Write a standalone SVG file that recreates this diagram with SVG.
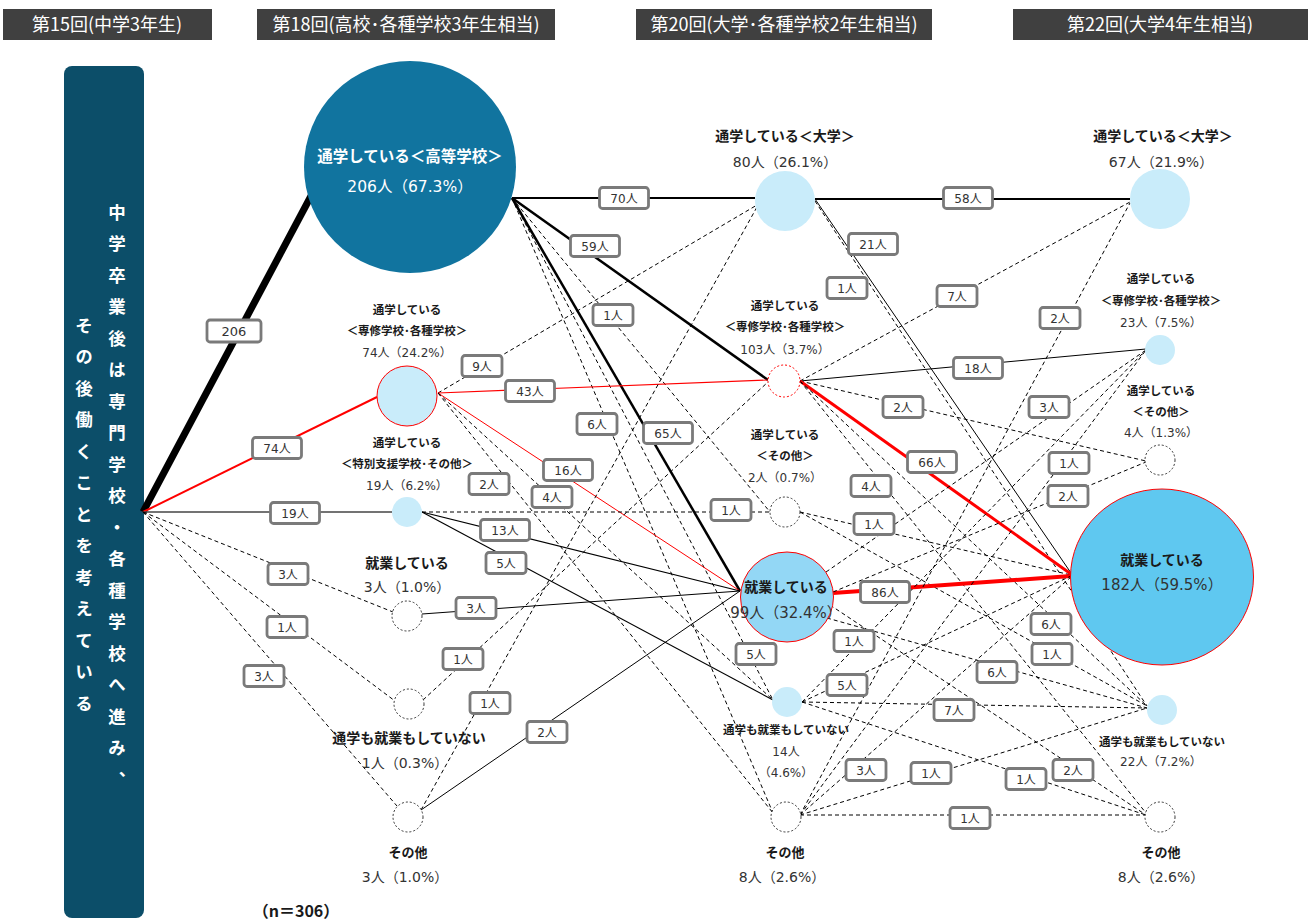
<svg xmlns="http://www.w3.org/2000/svg" width="1314" height="920" viewBox="0 0 1314 920">
<style>
.hdr{fill:#404040}
.hdt{font-family:"Noto Sans CJK JP",sans-serif;font-size:18px;fill:#fff;text-anchor:middle}
.vt{font-family:"Noto Sans CJK JP",sans-serif;font-size:17.5px;font-weight:bold;fill:#fff;writing-mode:vertical-rl;letter-spacing:14px}
.t{font-family:"Noto Sans CJK JP",sans-serif;font-weight:bold;fill:#1a1a1a;text-anchor:middle}
.v{font-family:"DejaVu Sans","Noto Sans CJK JP",sans-serif;fill:#333;text-anchor:middle}
.d{stroke:#000;stroke-width:1;stroke-dasharray:4 3;fill:none}
.k{stroke:#000;fill:none}
.r{stroke:#f00;fill:none}
.box{fill:#fff;stroke:#7a7a7a;stroke-width:2.8}
.lt{font-family:"DejaVu Sans","Noto Sans CJK JP",sans-serif;font-size:12px;fill:#333;text-anchor:middle}
.lc{fill:#c9ecfa}
.dc{fill:#fff;stroke:#333;stroke-width:1;stroke-dasharray:2 2}
</style>
<defs>
<rect id="b1" class="box" x="-20" y="-10.5" width="40" height="21" rx="3"/>
<rect id="b2" class="box" x="-24.5" y="-10.5" width="49" height="21" rx="3"/>
<rect id="b3" class="box" x="-27" y="-11" width="54" height="22" rx="3"/>
</defs>

<g id="headers">
<rect class="hdr" x="3" y="9" width="209" height="31"/>
<text class="hdt" x="107" y="31">第15回(中学3年生)</text>
<rect class="hdr" x="257" y="9" width="298" height="31"/>
<text class="hdt" x="406" y="31">第18回(高校･各種学校3年生相当)</text>
<rect class="hdr" x="636" y="9" width="296" height="31"/>
<text class="hdt" x="784" y="31">第20回(大学･各種学校2年生相当)</text>
<rect class="hdr" x="1013" y="9" width="295" height="31"/>
<text class="hdt" x="1160" y="31">第22回(大学4年生相当)</text>
</g>

<g id="start">
<rect x="64" y="66" width="80" height="852" rx="8" fill="#0c4e69"/>
<text class="vt" x="117" y="203.5">中学卒業後は専門学校・各種学校へ進み、</text>
<text class="vt" x="84" y="316.5">その後働くことを考えている</text>
</g>

<g id="connectors">
<line class="k" stroke-width="7" x1="143" y1="512" x2="311" y2="196"/>
<line class="r" stroke-width="2" x1="143" y1="512" x2="377" y2="397"/>
<line stroke="#444" stroke-width="1.5" x1="143" y1="512" x2="392" y2="512"/>
<line class="d" x1="143" y1="512" x2="393" y2="612"/>
<line class="d" x1="143" y1="512" x2="395" y2="701"/>
<line class="d" x1="143" y1="512" x2="397" y2="806"/>

<line class="k" stroke-width="2" x1="512" y1="198" x2="755" y2="198"/>
<line class="k" stroke-width="2.5" x1="512" y1="198" x2="768" y2="380"/>
<line class="k" stroke-width="2.5" x1="512" y1="198" x2="740" y2="591"/>
<line class="d" x1="512" y1="198" x2="770" y2="512"/>
<line class="d" x1="512" y1="198" x2="773" y2="700"/>
<line class="d" x1="512" y1="198" x2="773" y2="813"/>

<line class="d" x1="438" y1="393" x2="757" y2="205"/>
<line class="r" stroke-width="1.2" x1="438" y1="393" x2="768" y2="380"/>
<line class="r" stroke-width="1" x1="438" y1="393" x2="740" y2="591"/>
<line class="d" x1="438" y1="393" x2="773" y2="700"/>
<line class="d" x1="438" y1="393" x2="773" y2="813"/>

<line class="k" stroke-width="1.2" x1="422" y1="512" x2="740" y2="591"/>
<line class="k" stroke-width="1.2" x1="422" y1="512" x2="773" y2="700"/>
<line class="d" x1="422" y1="512" x2="770" y2="512"/>
<line class="k" stroke-width="1" x1="422" y1="614" x2="740" y2="591"/>
<line class="d" x1="423" y1="700" x2="768" y2="382"/>
<line class="d" x1="421" y1="810" x2="757" y2="207"/>
<line class="k" stroke-width="1" x1="421" y1="810" x2="740" y2="591"/>

<line class="k" stroke-width="2" x1="815" y1="199" x2="1130" y2="199"/>
<line class="k" stroke-width="1" x1="815" y1="199" x2="1071" y2="573"/>
<line class="d" x1="815" y1="201" x2="1147" y2="706"/>

<line class="d" x1="800" y1="381" x2="1130" y2="202"/>
<line class="k" stroke-width="1" x1="800" y1="381" x2="1146" y2="349"/>
<line class="d" x1="800" y1="381" x2="1146" y2="461"/>
<line class="r" stroke-width="3" x1="800" y1="381" x2="1071" y2="574"/>
<line class="d" x1="800" y1="381" x2="1147" y2="706"/>
<line class="d" x1="800" y1="381" x2="1146" y2="813"/>

<line class="d" x1="800" y1="512" x2="1071" y2="575"/>
<line class="d" x1="800" y1="512" x2="1147" y2="706"/>

<line class="r" stroke-width="4" x1="833" y1="593" x2="1071" y2="576"/>
<line class="d" x1="826" y1="572" x2="1146" y2="350"/>
<line class="d" x1="833" y1="592" x2="1146" y2="462"/>
<line class="d" x1="827" y1="618" x2="1147" y2="708"/>
<line class="d" x1="830" y1="605" x2="1146" y2="815"/>

<line class="d" x1="802" y1="702" x2="1147" y2="708"/>
<line class="d" x1="802" y1="702" x2="1146" y2="350"/>
<line class="d" x1="802" y1="702" x2="1071" y2="576"/>
<line class="d" x1="802" y1="702" x2="1146" y2="815"/>

<line class="d" x1="800" y1="815" x2="1130" y2="203"/>
<line class="d" x1="800" y1="815" x2="1146" y2="815"/>
<line class="d" x1="800" y1="815" x2="1147" y2="708"/>
<line class="d" x1="800" y1="815" x2="1071" y2="577"/>
<line class="d" x1="800" y1="815" x2="1146" y2="350"/>

<use href="#b3" x="234" y="331"/><text class="lt" x="234" y="335.5" style="font-size:13px">206</text>
<use href="#b2" x="277" y="448"/><text class="lt" x="277" y="452.5">74人</text>
<use href="#b2" x="295" y="513"/><text class="lt" x="295" y="517.5">19人</text>
<use href="#b1" x="288" y="574"/><text class="lt" x="288" y="578.5">3人</text>
<use href="#b1" x="287" y="627"/><text class="lt" x="287" y="631.5">1人</text>
<use href="#b1" x="264" y="676"/><text class="lt" x="264" y="680.5">3人</text>
<use href="#b2" x="624" y="198"/><text class="lt" x="624" y="202.5">70人</text>
<use href="#b2" x="595" y="246"/><text class="lt" x="595" y="250.5">59人</text>
<use href="#b2" x="668" y="433"/><text class="lt" x="668" y="437.5">65人</text>
<use href="#b1" x="613" y="315"/><text class="lt" x="613" y="319.5">1人</text>
<use href="#b1" x="756" y="654"/><text class="lt" x="756" y="658.5">5人</text>
<use href="#b1" x="597" y="424"/><text class="lt" x="597" y="428.5">6人</text>
<use href="#b1" x="482" y="366"/><text class="lt" x="482" y="370.5">9人</text>
<use href="#b2" x="530" y="391"/><text class="lt" x="530" y="395.5">43人</text>
<use href="#b2" x="568" y="470"/><text class="lt" x="568" y="474.5">16人</text>
<use href="#b1" x="552" y="497"/><text class="lt" x="552" y="501.5">4人</text>
<use href="#b1" x="489" y="484"/><text class="lt" x="489" y="488.5">2人</text>
<use href="#b2" x="505" y="530"/><text class="lt" x="505" y="534.5">13人</text>
<use href="#b1" x="506" y="563"/><text class="lt" x="506" y="567.5">5人</text>
<use href="#b1" x="731" y="510"/><text class="lt" x="731" y="514.5">1人</text>
<use href="#b1" x="476" y="608"/><text class="lt" x="476" y="612.5">3人</text>
<use href="#b1" x="463" y="659"/><text class="lt" x="463" y="663.5">1人</text>
<use href="#b1" x="490" y="703"/><text class="lt" x="490" y="707.5">1人</text>
<use href="#b1" x="547" y="732"/><text class="lt" x="547" y="736.5">2人</text>
<use href="#b2" x="968" y="198"/><text class="lt" x="968" y="202.5">58人</text>
<use href="#b2" x="873" y="244"/><text class="lt" x="873" y="248.5">21人</text>
<use href="#b1" x="847" y="288"/><text class="lt" x="847" y="292.5">1人</text>
<use href="#b1" x="957" y="296"/><text class="lt" x="957" y="300.5">7人</text>
<use href="#b2" x="978" y="368"/><text class="lt" x="978" y="372.5">18人</text>
<use href="#b1" x="903" y="407"/><text class="lt" x="903" y="411.5">2人</text>
<use href="#b2" x="932" y="462"/><text class="lt" x="932" y="466.5">66人</text>
<use href="#b1" x="1051" y="624"/><text class="lt" x="1051" y="628.5">6人</text>
<use href="#b1" x="871" y="486"/><text class="lt" x="871" y="490.5">4人</text>
<use href="#b1" x="874" y="524"/><text class="lt" x="874" y="528.5">1人</text>
<use href="#b1" x="1052" y="654"/><text class="lt" x="1052" y="658.5">1人</text>
<use href="#b2" x="885" y="592"/><text class="lt" x="885" y="596.5">86人</text>
<use href="#b1" x="1049" y="407"/><text class="lt" x="1049" y="411.5">3人</text>
<use href="#b1" x="1068" y="496"/><text class="lt" x="1068" y="500.5">2人</text>
<use href="#b1" x="997" y="672"/><text class="lt" x="997" y="676.5">6人</text>
<use href="#b1" x="1073" y="770"/><text class="lt" x="1073" y="774.5">2人</text>
<use href="#b1" x="954" y="710"/><text class="lt" x="954" y="714.5">7人</text>
<use href="#b1" x="854" y="641"/><text class="lt" x="854" y="645.5">1人</text>
<use href="#b1" x="847" y="685"/><text class="lt" x="847" y="689.5">5人</text>
<use href="#b1" x="1026" y="779"/><text class="lt" x="1026" y="783.5">1人</text>
<use href="#b1" x="1060" y="318"/><text class="lt" x="1060" y="322.5">2人</text>
<use href="#b1" x="970" y="818"/><text class="lt" x="970" y="822.5">1人</text>
<use href="#b1" x="931" y="773"/><text class="lt" x="931" y="777.5">1人</text>
<use href="#b1" x="866" y="770"/><text class="lt" x="866" y="774.5">3人</text>
<use href="#b1" x="1069" y="463"/><text class="lt" x="1069" y="467.5">1人</text>
</g>

<g id="a1">
<circle cx="410" cy="167" r="106" fill="#11749f"/>
<text class="t" x="410" y="162" style="font-size:15.5px;fill:#fff">通学している＜高等学校＞</text>
<text class="v" x="410" y="192" style="font-size:15.5px;fill:#fff">206人（67.3%）</text>
</g>
<g id="a2">
<circle cx="407" cy="396" r="30" class="lc" stroke="#f00" stroke-width="1"/>
<text class="t" x="407" y="314" style="font-size:11.5px">通学している</text>
<text class="t" x="407" y="335" style="font-size:11.5px">＜専修学校･各種学校＞</text>
<text class="v" x="407" y="357" style="font-size:12px">74人（24.2%）</text>
</g>
<g id="a3">
<circle cx="407" cy="512" r="15" class="lc"/>
<text class="t" x="407" y="447" style="font-size:11.5px">通学している</text>
<text class="t" x="407" y="468" style="font-size:11.5px">＜特別支援学校･その他＞</text>
<text class="v" x="407" y="490" style="font-size:12px">19人（6.2%）</text>
</g>
<g id="a4">
<circle cx="407" cy="616" r="15" class="dc"/>
<text class="t" x="407" y="568" style="font-size:14px">就業している</text>
<text class="v" x="407" y="592" style="font-size:14px">3人（1.0%）</text>
</g>
<g id="a5">
<circle cx="409" cy="704" r="15" class="dc"/>
<text class="t" x="409" y="743" style="font-size:14px">通学も就業もしていない</text>
<text class="v" x="405" y="768" style="font-size:14px">1人（0.3%）</text>
</g>
<g id="a6">
<circle cx="408" cy="817" r="15" class="dc"/>
<text class="t" x="408" y="857" style="font-size:13px">その他</text>
<text class="v" x="405" y="882" style="font-size:14px">3人（1.0%）</text>
</g>

<g id="b1n">
<circle cx="785" cy="201" r="30" class="lc"/>
<text class="t" x="785" y="141" style="font-size:14px">通学している＜大学＞</text>
<text class="v" x="785" y="167" style="font-size:14px">80人（26.1%）</text>
</g>
<g id="b2n">
<circle cx="784" cy="381" r="16" fill="#fff" stroke="#f00" stroke-width="1" stroke-dasharray="2 2"/>
<text class="t" x="785" y="310" style="font-size:11.5px">通学している</text>
<text class="t" x="785" y="331" style="font-size:11.5px">＜専修学校･各種学校＞</text>
<text class="v" x="785" y="354" style="font-size:12px">103人（3.7%）</text>
</g>
<g id="b3n">
<circle cx="785" cy="512" r="15" class="dc"/>
<text class="t" x="785" y="439" style="font-size:11.5px">通学している</text>
<text class="t" x="785" y="460" style="font-size:11.5px">＜その他＞</text>
<text class="v" x="785" y="482" style="font-size:12px">2人（0.7%）</text>
</g>
<g id="b4n">
<ellipse cx="787" cy="597" rx="46.5" ry="45" fill="#93d7f5" stroke="#f00" stroke-width="1"/>
<text class="t" x="786" y="592" style="font-size:14px">就業している</text>
<text class="v" x="786" y="618" style="font-size:15px">99人（32.4%）</text>
</g>
<g id="b5n">
<circle cx="787" cy="702" r="15" class="lc"/>
<text class="t" x="786" y="734" style="font-size:11.5px">通学も就業もしていない</text>
<text class="v" x="786" y="756" style="font-size:12px">14人</text>
<text class="v" x="786" y="777" style="font-size:12px">（4.6%）</text>
</g>
<g id="b6n">
<circle cx="786" cy="817" r="15" class="dc"/>
<text class="t" x="785" y="857" style="font-size:13px">その他</text>
<text class="v" x="782" y="882" style="font-size:14px">8人（2.6%）</text>
</g>

<g id="c1n">
<circle cx="1160" cy="199" r="30" class="lc"/>
<text class="t" x="1163" y="141" style="font-size:14px">通学している＜大学＞</text>
<text class="v" x="1161" y="167" style="font-size:14px">67人（21.9%）</text>
</g>
<g id="c2n">
<circle cx="1160" cy="350" r="15" class="lc"/>
<text class="t" x="1161" y="283" style="font-size:11.5px">通学している</text>
<text class="t" x="1161" y="305" style="font-size:11.5px">＜専修学校･各種学校＞</text>
<text class="v" x="1161" y="327" style="font-size:12px">23人（7.5%）</text>
</g>
<g id="c3n">
<circle cx="1160" cy="460" r="15" class="dc"/>
<text class="t" x="1161" y="395" style="font-size:11.5px">通学している</text>
<text class="t" x="1161" y="416" style="font-size:11.5px">＜その他＞</text>
<text class="v" x="1161" y="437" style="font-size:12px">4人（1.3%）</text>
</g>
<g id="c4n">
<ellipse cx="1162" cy="577" rx="91.5" ry="88" fill="#5fc8f0" stroke="#f00" stroke-width="1"/>
<text class="t" x="1162" y="565" style="font-size:14px">就業している</text>
<text class="v" x="1162" y="590" style="font-size:15px">182人（59.5%）</text>
</g>
<g id="c5n">
<circle cx="1162" cy="710" r="15" class="lc"/>
<text class="t" x="1162" y="746" style="font-size:11.5px">通学も就業もしていない</text>
<text class="v" x="1161" y="766" style="font-size:12px">22人（7.2%）</text>
</g>
<g id="c6n">
<circle cx="1160" cy="817" r="15" class="dc"/>
<text class="t" x="1161" y="857" style="font-size:13px">その他</text>
<text class="v" x="1161" y="882" style="font-size:14px">8人（2.6%）</text>
</g>

<text class="t" x="296" y="917" style="font-size:16px">（n＝306）</text>
</svg>
